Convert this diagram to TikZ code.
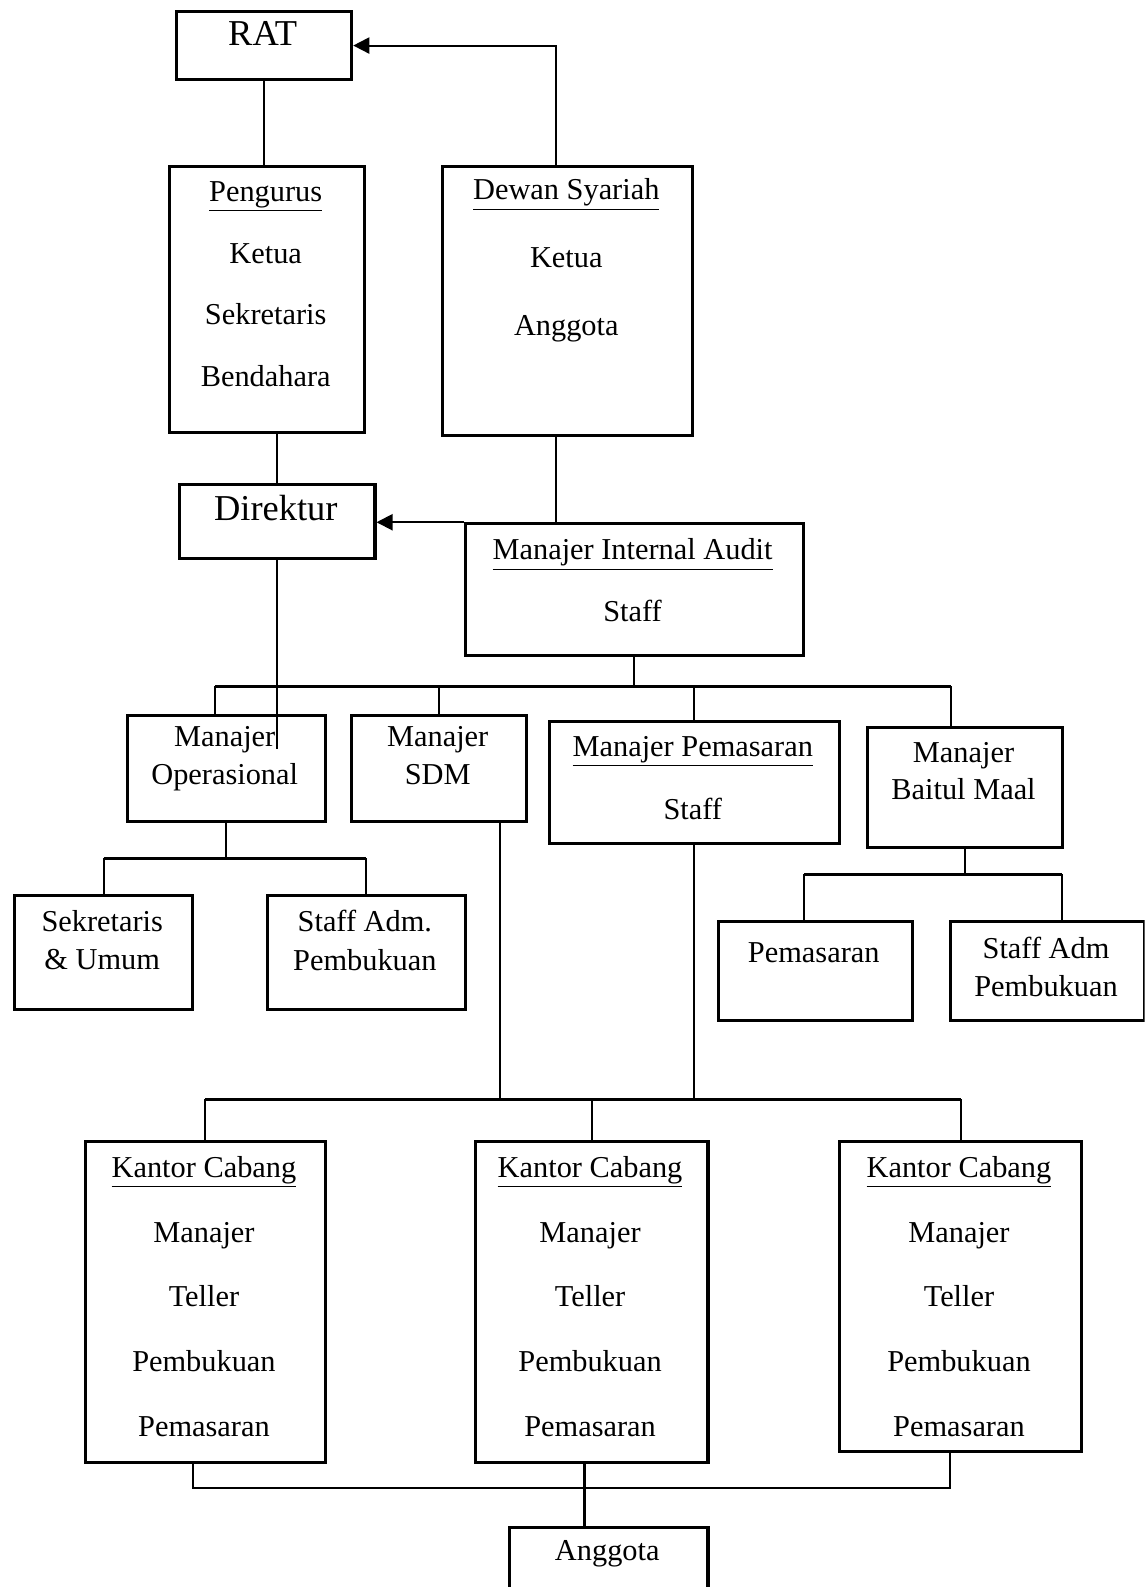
\documentclass[tikz,border=0pt]{standalone}
\usepackage{fontspec}
\setmainfont{Liberation Serif}
\usetikzlibrary{arrows.meta}

\tikzset{
	kotak/.style={draw, line width=1.5pt, inner sep=0pt, anchor=north west},
	teks/.style={inner sep=0pt, anchor=north, align=center, font=\fontsize{15}{19}\selectfont},
	garis/.style={line width=1pt},
	bus/.style={line width=1.5pt},
	panah/.style={line width=1pt, -{Triangle[length=8pt,width=8pt]}}
}

\begin{document}
\begin{tikzpicture}[x=0.5pt, y=-0.5pt]
		\useasboundingbox (0,0) rectangle (1131,1568);
		\clip (0,0) rectangle (1131,1568);
		
		% kotak
		\node[kotak, minimum width=86.5pt, minimum height=33.5pt] (rat) at (173,10) {};
		\node[kotak, minimum width=96.5pt, minimum height=131.5pt] (pengurus) at (166,163) {};
		\node[kotak, minimum width=123.5pt, minimum height=133pt] (dewan) at (436,163) {};
		\node[kotak, minimum width=96.5pt, minimum height=36.5pt] (direktur) at (176,477) {};
		\node[kotak, minimum width=167pt, minimum height=65pt] (mia) at (458,516) {};
		\node[kotak, minimum width=98pt, minimum height=52.5pt] (manOps) at (124,705) {};
		\node[kotak, minimum width=86.5pt, minimum height=52.5pt] (manSdm) at (346,705) {};
		\node[kotak, minimum width=143.5pt, minimum height=60.5pt] (manPem) at (541,711) {};
		\node[kotak, minimum width=96pt, minimum height=59.5pt] (manBm) at (856,717) {};
		\node[kotak, minimum width=88pt, minimum height=56.5pt] (sekUmum) at (13,883) {};
		\node[kotak, minimum width=97.5pt, minimum height=56.5pt] (admOps) at (263,883) {};
		\node[kotak, minimum width=96pt, minimum height=49pt] (pemBm) at (708,909) {};
		\node[kotak, minimum width=95.5pt, minimum height=49pt] (admBm) at (938,909) {};
		\node[kotak, minimum width=118.5pt, minimum height=158.5pt] (kc1) at (83,1126) {};
		\node[kotak, minimum width=115pt, minimum height=158.5pt] (kc2) at (468,1126) {};
		\node[kotak, minimum width=119.5pt, minimum height=153.5pt] (kc3) at (828,1126) {};
		\node[kotak, minimum width=98pt, minimum height=40pt] (anggota) at (502,1508) {};
		
		% isi kotak
		\node[teks, font=\fontsize{18}{20}\selectfont] (ratT) at (259.5,21) {RAT};
		\node[teks, font=\fontsize{15}{30.5}\selectfont] (pengurusT) at (262.5,179) {\underline{Pengurus}\\Ketua\\Sekretaris\\Bendahara};
		\node[teks, font=\fontsize{15}{33.5}\selectfont] (dewanT) at (559.5,176) {\underline{Dewan Syariah}\\Ketua\\Anggota};
		\node[teks, font=\fontsize{18}{20}\selectfont] (direkturT) at (272.5,489) {Direktur};
		\node[teks, font=\fontsize{15}{30.5}\selectfont] (miaT) at (625,532) {\underline{Manajer Internal Audit}\\Staff};
		\node[teks] (manOpsT) at (222,717) {Manajer\\Operasional};
		\node[teks] (manSdmT) at (432.5,717) {Manajer\\SDM};
		\node[teks, font=\fontsize{15}{31}\selectfont] (manPemT) at (684.5,727) {\underline{Manajer Pemasaran}\\Staff};
		\node[teks, font=\fontsize{15}{18.5}\selectfont] (manBmT) at (952,733) {Manajer\\Baitul Maal};
		\node[teks] (sekUmumT) at (101,899) {Sekretaris\\\& Umum};
		\node[teks] (admOpsT) at (360.5,899) {Staff Adm.\\Pembukuan};
		\node[teks] (pemBmT) at (804,931) {Pemasaran};
		\node[teks] (admBmT) at (1033.5,925) {Staff Adm\\Pembukuan};
		\foreach \k/\x in {kc1/201.5, kc2/583, kc3/947.5}
			\node[teks, font=\fontsize{15}{32}\selectfont] (\k T) at (\x,1142) {\underline{Kantor Cabang}\\Manajer\\Teller\\Pembukuan\\Pemasaran};
		\node[teks] (anggotaT) at (600,1522) {Anggota};
		
		% titik bantu
		\coordinate (busA) at (0,678);
		\coordinate (busB) at (0,848);
		\coordinate (busC) at (0,864);
		\coordinate (busD) at (0,1086);
		\coordinate (busE) at (0,1470);
		\coordinate (dirEnd) at (0,740);
		
		% garis
		\draw[garis] (rat.south) -- (rat.south |- pengurus.north);
		\draw[panah] ([xshift=-6pt]dewan.north) |- (rat.east);
		\draw[garis] (direktur.north |- pengurus.south) -- (direktur.north);
		\draw[garis] ([xshift=-6pt]dewan.south) -- ([xshift=-6pt]dewan.south |- mia.north);
		\draw[panah] (mia.north west) -- (mia.north west -| direktur.east);
		\draw[garis] (direktur.south) -- (direktur.south |- dirEnd);
		
		\draw[garis] (mia.south) -- (mia.south |- busA);
		\draw[bus] ([xshift=-5.5pt]manOps.north |- busA) -- ([xshift=-7pt]manBm.north |- busA);
		\draw[garis] ([xshift=-5.5pt]manOps.north) -- ([xshift=-5.5pt]manOps.north |- busA);
		\draw[garis] (manSdm.north) -- (manSdm.north |- busA);
		\draw[garis] (manPem.north) -- (manPem.north |- busA);
		\draw[garis] ([xshift=-7pt]manBm.north) -- ([xshift=-7pt]manBm.north |- busA);
		
		\draw[garis] (manOps.south) -- (manOps.south |- busB);
		\draw[bus] (sekUmum.north |- busB) -- (admOps.north |- busB);
		\foreach \n in {sekUmum, admOps}
			\draw[garis] (\n.north) -- (\n.north |- busB);
		
		\draw[garis] (manBm.south) -- (manBm.south |- busC);
		\draw[bus] ([xshift=-5.5pt]pemBm.north |- busC) -- ([xshift=7pt]admBm.north |- busC);
		\draw[garis] ([xshift=-5.5pt]pemBm.north) -- ([xshift=-5.5pt]pemBm.north |- busC);
		\draw[garis] ([xshift=7pt]admBm.north) -- ([xshift=7pt]admBm.north |- busC);
		
		\draw[garis] ([xshift=30pt]manSdm.south) -- ([xshift=30pt]manSdm.south |- busD);
		\draw[garis] (manPem.south) -- (manPem.south |- busD);
		\draw[bus] (kc1.north |- busD) -- (kc3.north |- busD);
		\foreach \n in {kc1, kc2, kc3}
			\draw[garis] (\n.north) -- (\n.north |- busD);
		
		\draw[garis] ([xshift=-6pt]kc1.south) |- ([xshift=-5pt]kc3.south |- busE) -- ([xshift=-5pt]kc3.south);
		\draw[garis] ([xshift=-3.5pt]kc2.south) -- ([xshift=-3.5pt]kc2.south |- anggota.north);
	\end{tikzpicture}
\end{document}
